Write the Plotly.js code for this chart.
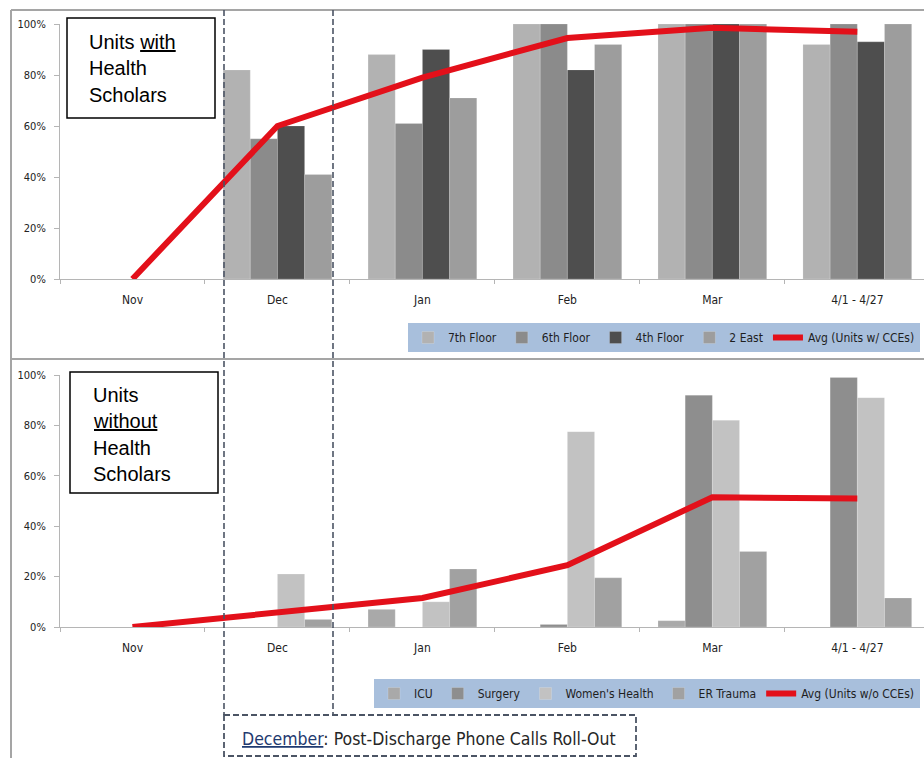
<!DOCTYPE html>
<html>
<head>
<meta charset="utf-8">
<script src="https://cdn.plot.ly/plotly-3.0.1.min.js"></script>
<style>html,body{margin:0;padding:0;background:#fff;overflow:hidden}#chart{width:924px;height:758px}</style>
</head>
<body>
<div id="chart"></div>
<script>
// ---- data ----
const categories = ['Nov', 'Dec', 'Jan', 'Feb', 'Mar', '4/1 - 4/27'];
// Units with Health Scholars
const floor7 = [0, 0.82, 0.88, 1.00, 1.00, 0.92];
const floor6 = [0, 0.55, 0.61, 1.00, 1.00, 1.00];
const floor4 = [0, 0.60, 0.90, 0.82, 1.00, 0.93];
const east2  = [0, 0.41, 0.71, 0.92, 1.00, 1.00];
const avgWith = [0, 0.60, 0.79, 0.945, 0.985, 0.97];
// Units without Health Scholars
const icu      = [0, 0, 0.07, 0, 0.025, 0];
const surgery  = [0, 0, 0, 0.01, 0.92, 0.99];
const womens   = [0, 0.21, 0.10, 0.775, 0.82, 0.91];
const erTrauma = [0, 0.03, 0.23, 0.195, 0.30, 0.115];
const avgWithout = [0, 0.06, 0.115, 0.245, 0.515, 0.51];
const yTicks = [0, 0.2, 0.4, 0.6, 0.8, 1.0];

// ---- layout helpers ----
const W = 924, H = 758;
const px = v => v / W;
const py = v => 1 - v / H;
const narrow = '"Liberation Sans Narrow", "DejaVu Sans Condensed", "Roboto Condensed", Arial, sans-serif';
const red = '#e3101a';

function bar(name, y, color, xa, ya, leg) {
  return {type: 'bar', name: name, x: categories, y: y, xaxis: xa, yaxis: ya, legend: leg,
    marker: {color: color, line: {color: 'rgba(255,255,255,0.35)', width: 0.5}}, hoverinfo: 'skip'};
}
function avg(name, y, xa, ya, leg) {
  return {type: 'scatter', mode: 'lines', name: name, x: categories, y: y, xaxis: xa, yaxis: ya, legend: leg,
    line: {color: red, width: 6}, hoverinfo: 'skip'};
}

const traces = [
  bar('7th Floor', floor7, '#b2b2b2', 'x', 'y', 'legend'),
  bar('6th Floor', floor6, '#8b8b8b', 'x', 'y', 'legend'),
  bar('4th Floor', floor4, '#4e4e4e', 'x', 'y', 'legend'),
  bar('2 East', east2, '#9d9d9d', 'x', 'y', 'legend'),
  avg('Avg (Units w/ CCEs)', avgWith, 'x', 'y', 'legend'),
  bar('ICU', icu, '#a9a9a9', 'x2', 'y2', 'legend2'),
  bar('Surgery', surgery, '#8e8e8e', 'x2', 'y2', 'legend2'),
  bar("Women's Health", womens, '#c2c2c2', 'x2', 'y2', 'legend2'),
  bar('ER Trauma', erTrauma, '#a1a1a1', 'x2', 'y2', 'legend2'),
  avg('Avg (Units w/o CCEs)', avgWithout, 'x2', 'y2', 'legend2')
];

const xCommon = {
  type: 'category', range: [-0.5, 5.46], domain: [px(60), 1],
  showgrid: false, zeroline: false, showline: true, linecolor: '#b5b5b5', linewidth: 1,
  ticks: 'outside', tickson: 'boundaries', ticklen: 4, tickcolor: '#b5b5b5',
  tickfont: {family: narrow, size: 12, color: '#222'}, ticklabelstandoff: 10, fixedrange: true
};
const yCommon = {
  range: [0, 1], tickvals: yTicks, tickformat: '.0%',
  showgrid: false, zeroline: false, showline: true, linecolor: '#b5b5b5', linewidth: 1,
  ticks: 'outside', ticklen: 5, tickcolor: '#b5b5b5',
  tickfont: {family: narrow, size: 11, color: '#222'}, ticklabelstandoff: 6, fixedrange: true
};

const legendCommon = {
  orientation: 'h', xanchor: 'right', yanchor: 'top', x: px(920),
  bgcolor: '#a8bfdc', borderwidth: 0, font: {family: narrow, size: 12, color: '#1e1e1e'},
  itemwidth: 30, tracegroupgap: 0, traceorder: 'normal'
};

const dashColor = '#4b5464';
const dash = '6px,3px';
const shapes = [
  // frames
  {type: 'line', xref: 'paper', yref: 'paper', x0: px(11), x1: 1, y0: py(10), y1: py(10), line: {color: '#a5a5a5', width: 2}},
  {type: 'line', xref: 'paper', yref: 'paper', x0: px(11), x1: px(11), y0: py(10), y1: 0, line: {color: '#a5a5a5', width: 2}},
  {type: 'line', xref: 'paper', yref: 'paper', x0: px(11), x1: 1, y0: py(359), y1: py(359), line: {color: '#a5a5a5', width: 2}},
  // december dashed guides
  {type: 'line', xref: 'paper', yref: 'paper', x0: px(224), x1: px(224), y0: py(10), y1: py(715), line: {color: dashColor, width: 1.6, dash: dash}},
  {type: 'line', xref: 'paper', yref: 'paper', x0: px(333), x1: px(333), y0: py(10), y1: py(715), line: {color: dashColor, width: 1.6, dash: dash}},
  {type: 'rect', xref: 'paper', yref: 'paper', x0: px(224), x1: px(636), y0: py(715), y1: py(756), line: {color: dashColor, width: 1.8, dash: dash}},
  // label boxes
  {type: 'rect', xref: 'paper', yref: 'paper', x0: px(67), x1: px(215), y0: py(18), y1: py(118), fillcolor: '#fff', line: {color: '#000', width: 1.5}, layer: 'above'},
  {type: 'rect', xref: 'paper', yref: 'paper', x0: px(70), x1: px(218), y0: py(372), y1: py(493), fillcolor: '#fff', line: {color: '#000', width: 1.5}, layer: 'above'}
];

function txt(text, x, y) {
  return {xref: 'paper', yref: 'paper', x: px(x), y: py(y), xanchor: 'left', yanchor: 'middle', showarrow: false,
    text: text, font: {family: 'Liberation Sans, Arial, sans-serif', size: 20, color: '#000'}};
}
const annotations = [
  txt('Units <u>with</u>', 87, 42),
  txt('Health', 87, 68),
  txt('Scholars', 87, 95),
  txt('Units', 91, 395),
  txt('<u>without</u>', 91, 421),
  txt('Health', 91, 448),
  txt('Scholars', 91, 474),
  {xref: 'paper', yref: 'paper', x: px(240), y: py(739), xanchor: 'left', yanchor: 'middle', showarrow: false,
   text: '<span style="color:#1f3a70"><u>December</u></span>: Post-Discharge Phone Calls Roll-Out',
   font: {family: narrow, size: 17.5, color: '#262626'}}
];

const layout = {
  width: W, height: H, margin: {l: 0, r: 0, t: 0, b: 0},
  paper_bgcolor: '#fff', plot_bgcolor: 'rgba(0,0,0,0)',
  barmode: 'group', bargap: 0.25, bargroupgap: 0,
  xaxis: Object.assign({}, xCommon, {anchor: 'y'}),
  yaxis: Object.assign({}, yCommon, {domain: [py(279), py(24)], anchor: 'x'}),
  xaxis2: Object.assign({}, xCommon, {anchor: 'y2'}),
  yaxis2: Object.assign({}, yCommon, {domain: [py(627), py(375)], anchor: 'x2'}),
  legend: Object.assign({}, legendCommon, {y: py(323)}),
  legend2: Object.assign({}, legendCommon, {y: py(679)}),
  shapes: shapes, annotations: annotations, showlegend: true
};

Plotly.newPlot('chart', traces, layout, {displayModeBar: false, staticPlot: true});
</script>
</body>
</html>
